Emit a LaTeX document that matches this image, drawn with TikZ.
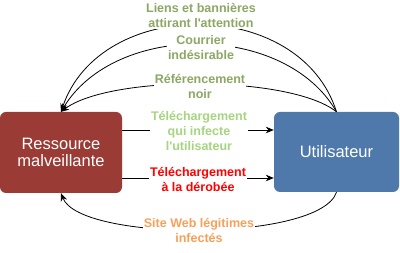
\documentclass[tikz,border=0pt]{standalone}
\usepackage{fontspec}
\setmainfont{Liberation Sans}
\usetikzlibrary{arrows.meta}
\definecolor{boxred}{RGB}{155,59,53}
\definecolor{boxblue}{RGB}{79,121,171}
\definecolor{olive}{RGB}{141,167,100}
\definecolor{lightgreen}{RGB}{166,213,128}
\definecolor{orangelab}{RGB}{247,160,90}
\begin{document}
\begin{tikzpicture}[x=1pt,y=-1pt,
  box/.style={rounded corners=6pt, inner sep=0pt, text=white, align=center,
    font=\fontsize{16.5}{17}\selectfont},
  lab/.style={fill=white, inner sep=1pt, align=center,
    font=\bfseries\fontsize{12.5}{15}\selectfont},
  arr/.style={draw=black, line width=0.8pt, -{Stealth[length=8pt,width=6.5pt]}}
]
\useasboundingbox (0,0) rectangle (400,253);
\node[box, fill=boxred, minimum width=122pt, minimum height=81pt] (L) at (61,152.5) {Ressource\\malveillante};
\node[box, fill=boxblue, minimum width=125pt, minimum height=80pt] (R) at (336.5,152) {Utilisateur};

\draw[arr] (R.north) .. controls (300,-4) and (100,-4) .. (L.north);
\draw[arr] (R.north) .. controls (285,22) and (115,22) .. (L.north);
\draw[arr] (R.north) .. controls (290,75) and (110,75) .. (L.north);
\draw[arr] ([yshift=22.5pt]L.east) -- ([yshift=22pt]R.west);
\draw[arr] ([yshift=-25.5pt]L.east) -- ([yshift=-26pt]R.west);
\draw[arr] (R.south) .. controls (320,242) and (80,242) .. (L.south);

\node[lab, text=olive] (t1) at (201,15.5) {Liens et bannières\\attirant l\textquotesingle attention};
\node[lab, text=olive] (t2) at (201,48) {Courrier\\indésirable};
\node[lab, text=olive] (t3) at (200,86) {Référencement\\noir};
\node[lab, text=lightgreen] (t4) at (199,130.5) {Téléchargement\\qui infecte\\l\textquotesingle utilisateur};
\node[lab, text=red] (t5) at (198,179) {Téléchargement\\à la dérobée};
\node[lab, text=orangelab] (t6) at (199,230.5) {Site Web légitimes\\infectés};
\end{tikzpicture}
\end{document}
